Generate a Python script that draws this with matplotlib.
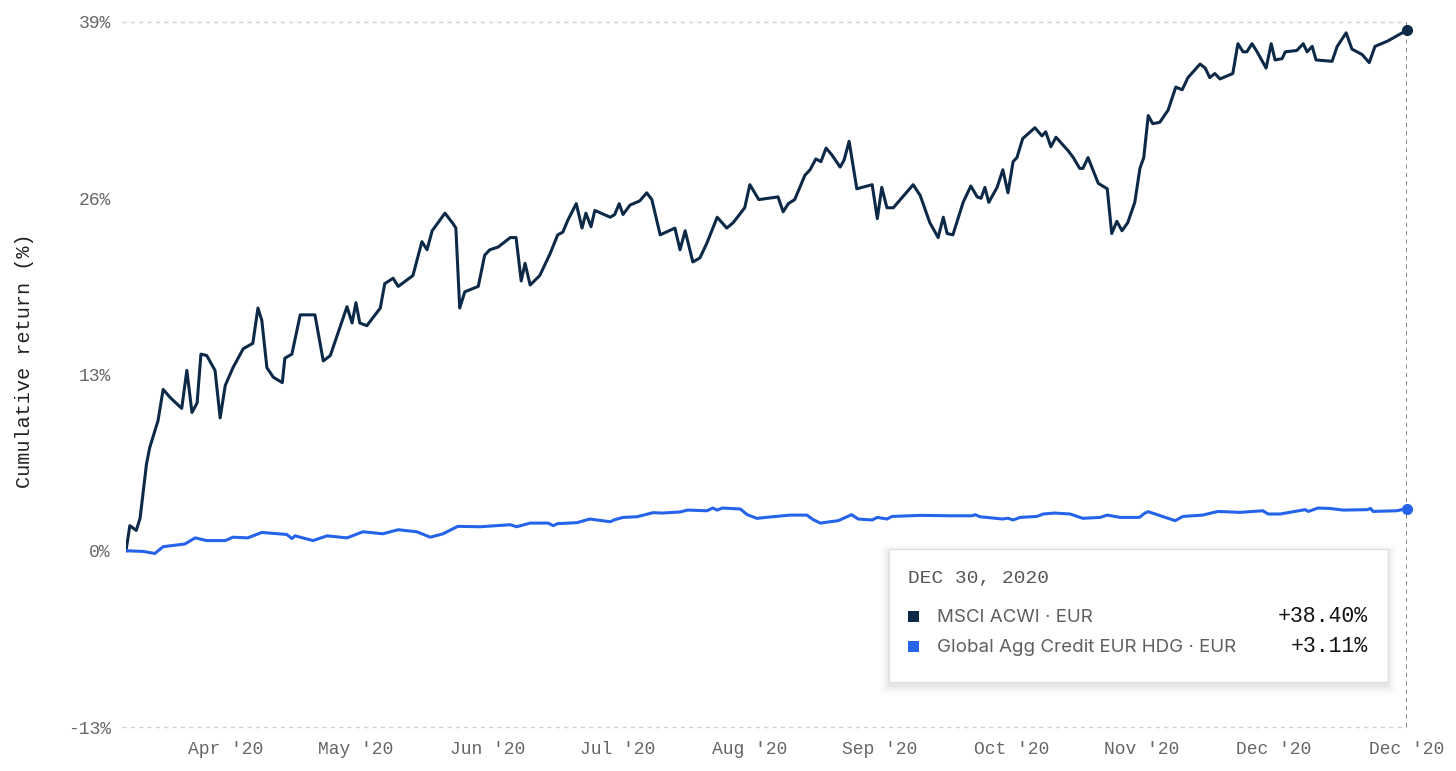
import matplotlib.pyplot as plt
from matplotlib.patches import Rectangle

# trading-day index (0 = start of window) and cumulative return in %
acwi_day = [0.0, 0.6, 1.6, 2.2, 3.2, 3.7, 5.0, 5.8, 6.9, 8.7, 9.5, 10.3, 11.1, 11.7, 12.6,
            13.9, 14.7, 15.5, 16.7, 18.3, 19.8, 20.6, 21.2, 22.0, 23.0, 24.4, 24.8, 25.9,
            27.2, 29.5, 30.8, 31.9, 34.5, 35.3, 35.9, 36.5, 37.6, 39.7, 40.4, 41.7, 42.5,
            42.8, 44.8, 46.2, 47.0, 47.8, 49.8, 51.1, 51.5, 52.1, 52.9, 55.0, 56.0, 56.8,
            58.1, 60.0, 60.9, 61.7, 62.3, 63.1, 64.6, 66.2, 67.4, 68.2, 69.0, 70.3, 71.2,
            71.8, 72.6, 73.2, 75.6, 76.3, 77.0, 77.6, 78.7, 80.2, 81.3, 82.1, 83.4, 85.7,
            86.5, 87.3, 88.5, 89.6, 90.7, 92.3, 93.8, 94.8, 96.6, 97.4, 98.8, 101.8, 102.6,
            103.4, 104.4, 106.0, 106.8, 107.7, 108.5, 109.3, 110.2, 111.5, 112.1, 112.9,
            114.1, 116.5, 117.3, 118.0, 118.8, 119.8, 122.9, 124.0, 125.5, 126.8, 127.6,
            128.2, 129.1, 130.7, 131.9, 132.9, 133.5, 134.1, 134.7, 136.0, 136.9, 137.7,
            138.5, 139.1, 140.0, 141.9, 143.0, 143.6, 144.4, 145.2, 147.1, 147.9, 148.9,
            149.4, 150.2, 151.8, 153.2, 153.9, 154.7, 155.5, 156.4, 157.5, 158.3, 158.9,
            159.6, 160.3, 161.4, 162.7, 163.9, 164.9, 165.8, 167.7, 168.5, 169.2, 170.0,
            170.8, 172.8, 173.6, 174.4, 175.0, 175.8, 176.6, 178.0, 178.8, 179.4, 180.5,
            181.0, 182.8, 183.8, 184.4, 185.2, 185.8, 188.3, 189.1, 190.5, 191.4, 193.0,
            194.1, 195.0, 197.0, 200.0]
acwi_ret = [0.0, 1.85, 1.5, 2.4, 6.4, 7.6, 9.6, 11.9, 11.3, 10.5, 13.3, 10.2, 10.9, 14.5, 14.4,
            13.3, 9.8, 12.2, 13.5, 14.9, 15.3, 17.9, 17.0, 13.5, 12.8, 12.4, 14.2, 14.5,
            17.4, 17.4, 14.0, 14.4, 18.0, 16.8, 18.3, 16.8, 16.6, 17.9, 19.7, 20.1, 19.5,
            19.6, 20.3, 22.8, 22.2, 23.6, 24.9, 24.1, 23.8, 17.9, 19.1, 19.5, 21.8, 22.2,
            22.4, 23.1, 23.1, 19.9, 21.2, 19.6, 20.3, 21.9, 23.3, 23.5, 24.4, 25.6, 23.8,
            24.9, 23.9, 25.1, 24.6, 24.8, 25.6, 24.8, 25.5, 25.8, 26.4, 25.9, 23.3, 23.8,
            22.2, 23.6, 21.3, 21.6, 22.7, 24.6, 23.8, 24.2, 25.3, 27.0, 25.9, 26.1, 25.0,
            25.6, 25.9, 27.7, 28.1, 28.9, 28.7, 29.7, 29.2, 28.3, 28.8, 30.2,
            26.7, 27.0, 24.5, 26.8, 25.3, 25.3, 27.0, 26.2, 24.2, 23.1, 24.6,
            23.4, 23.3, 25.7, 26.9, 26.1, 26.0, 26.8, 25.7, 26.8, 28.1, 26.4,
            28.7, 29.0, 30.4, 31.2, 30.6, 30.9, 29.8, 30.5, 29.5, 29.0, 28.2,
            28.2, 29.0, 27.1, 26.7, 23.4, 24.3, 23.6, 24.2, 25.7, 28.2, 29.0,
            32.1, 31.5, 31.6, 32.5, 34.2, 34.0, 34.9, 35.9, 35.6, 34.9, 35.2,
            34.8, 35.2, 37.4, 36.8, 36.8, 37.4, 36.8, 35.6, 37.4, 36.2, 36.3,
            36.8, 36.9, 37.4, 36.8, 37.2, 36.2, 36.1, 37.2, 38.2, 37.0, 36.6,
            36.0, 37.2, 37.6, 38.40]

agg_day = [0.0, 2.7, 4.5, 5.8, 9.2, 10.8, 12.6, 15.5, 16.7, 19.0, 21.2, 25.1, 25.9, 26.4,
           29.2, 31.4, 34.5, 37.0, 40.1, 42.5, 45.4, 47.5, 49.5, 51.8, 55.3, 60.0, 61.0,
           63.1, 65.9, 66.7, 67.4, 70.4, 72.4, 75.6, 76.3, 77.6, 79.8, 82.3, 83.7, 86.5,
           87.7, 90.7, 91.6, 92.3, 93.1, 95.9, 97.0, 98.5, 101.0, 103.7, 106.3, 107.3,
           108.4, 111.2, 113.3, 114.3, 116.5, 117.3, 118.8, 119.6, 124.0, 128.6, 132.1,
           132.6, 133.3, 136.9, 137.7, 138.5, 139.6, 142.2, 143.2, 145.0, 147.4, 149.4,
           152.1, 153.2, 155.2, 158.2, 159.1, 159.6, 161.0, 163.8, 165.0, 168.1, 168.8,
           170.5, 173.9, 177.5, 178.3, 180.2, 182.5, 184.1, 184.6, 186.1, 188.0, 190.0,
           193.8, 194.3, 194.7, 198.4, 200.0]
agg_ret = [0.0, -0.05, -0.2, 0.3, 0.5, 0.95, 0.75, 0.75, 1.0, 0.95, 1.35, 1.2, 0.9, 1.1,
           0.75, 1.1, 0.95, 1.4, 1.25, 1.55, 1.4, 1.0, 1.25, 1.8, 1.77, 1.92, 1.77,
           2.04, 2.04, 1.85, 2.0, 2.07, 2.34, 2.14, 2.29, 2.46, 2.51, 2.81, 2.78, 2.86,
           3.0, 2.95, 3.15, 3.0, 3.15, 3.08, 2.66, 2.39, 2.51, 2.63, 2.63, 2.29,
           2.04, 2.22, 2.66, 2.34, 2.27, 2.46, 2.34, 2.53, 2.61, 2.58, 2.58,
           2.66, 2.51, 2.34, 2.4, 2.27, 2.46, 2.53, 2.71, 2.78, 2.71, 2.39,
           2.46, 2.63, 2.46, 2.46, 2.78, 2.88, 2.66, 2.22, 2.53, 2.63, 2.71,
           2.90, 2.83, 2.95, 2.71, 2.71, 2.90, 3.03, 2.90, 3.15, 3.12, 3.0,
           3.03, 3.12, 2.90, 2.95, 3.11]

tick_pos = [15.5, 35.9, 56.4, 76.8, 97.3, 117.7, 138.2, 158.6, 179.1, 200.0]
tick_lab = ["Apr '20", "May '20", "Jun '20", "Jul '20", "Aug '20", "Sep '20",
            "Oct '20", "Nov '20", "Dec '20", "Dec '20"]
y_ticks = [-13, 0, 13, 26, 39]

series_names = ["MSCI ACWI \u00b7 EUR", "Global Agg Credit EUR HDG \u00b7 EUR"]
series_last = ["+38.40%", "+3.11%"]
hover_date = "DEC 30, 2020"

NAVY = "#0c2a47"
BLUE = "#2563eb"
MONO = ["Liberation Mono", "DejaVu Sans Mono"]

W, H = 1456, 771
fig = plt.figure(figsize=(W / 100, H / 100), dpi=100)
ax = fig.add_axes([126 / W, 1 - 727 / H, (1407 - 126) / W, (727 - 22) / H])

ax.plot(acwi_day, acwi_ret, color=NAVY, lw=2.2, solid_joinstyle="round", zorder=3)
ax.plot(agg_day, agg_ret, color=BLUE, lw=2.2, solid_joinstyle="round", zorder=3)
ax.plot(acwi_day[-1], acwi_ret[-1], "o", color=NAVY, ms=7, zorder=4, clip_on=False)
ax.plot(agg_day[-1], agg_ret[-1], "o", color=BLUE, ms=7, zorder=4, clip_on=False)

ax.set_xlim(0, 200)
ax.set_ylim(-13, 39)
for yv in (y_ticks[0], y_ticks[-1]):
    ax.axhline(yv, color="#cfcfcf", lw=1, ls=(0, (3, 3)), xmin=-0.003, clip_on=False, zorder=1)
ax.axvline(200, color="#6f6f6f", lw=1.2, ls=(0, (2.5, 2.5)), zorder=2)

for s in ax.spines.values():
    s.set_visible(False)
ax.set_yticks(y_ticks)
ax.set_yticklabels([f"{v}%" for v in y_ticks])
ax.set_xticks(tick_pos)
ax.set_xticklabels(tick_lab)
ax.tick_params(length=0, labelsize=13, labelcolor="#666666")
ax.tick_params(axis="y", pad=11)
ax.tick_params(axis="x", pad=10)
for lab in ax.get_xticklabels() + ax.get_yticklabels():
    lab.set_family(MONO)
ax.set_ylabel("Cumulative return (%)", family=MONO, fontsize=14.5, color="#222222")
ax.yaxis.set_label_coords(-0.072, 0.52)

# hover tooltip
bx0, by0, bx1, by1 = 889, 549, 1388, 682
for k, a in enumerate([0.035, 0.025, 0.018, 0.012, 0.008]):
    off = 1 + 2 * k
    fig.patches.append(Rectangle(((bx0 - off) / W, 1 - (by1 + off + 4) / H),
                                 (bx1 - bx0 + 2 * off) / W, (by1 - by0 + 2 * off) / H,
                                 transform=fig.transFigure, fc="black", ec="none",
                                 alpha=a, zorder=5))
fig.patches.append(Rectangle((bx0 / W, 1 - by1 / H), (bx1 - bx0) / W, (by1 - by0) / H,
                             transform=fig.transFigure, fc="white", ec="#e0e0e0", lw=1, zorder=6))
fig.text(908 / W, 1 - 579 / H, hover_date, family=MONO, fontsize=14, color="#555555",
         va="center", zorder=7)
for i, (name, val, col) in enumerate(zip(series_names, series_last, [NAVY, BLUE])):
    yc = 1 - (617 + 30 * i) / H
    fig.patches.append(Rectangle((908 / W, yc - 5 / H), 11 / W, 11 / H,
                                 transform=fig.transFigure, fc=col, ec="none", zorder=7))
    fig.text(937 / W, yc, name, family=["Inter", "DejaVu Sans"], fontsize=13.5,
             color="#5f5f5f", va="center", zorder=7)
    fig.text(1368 / W, yc, val, family=MONO, fontsize=15.5, color="#111111",
             va="center", ha="right", zorder=7)

fig.savefig("out.png", dpi=100, facecolor="white")
